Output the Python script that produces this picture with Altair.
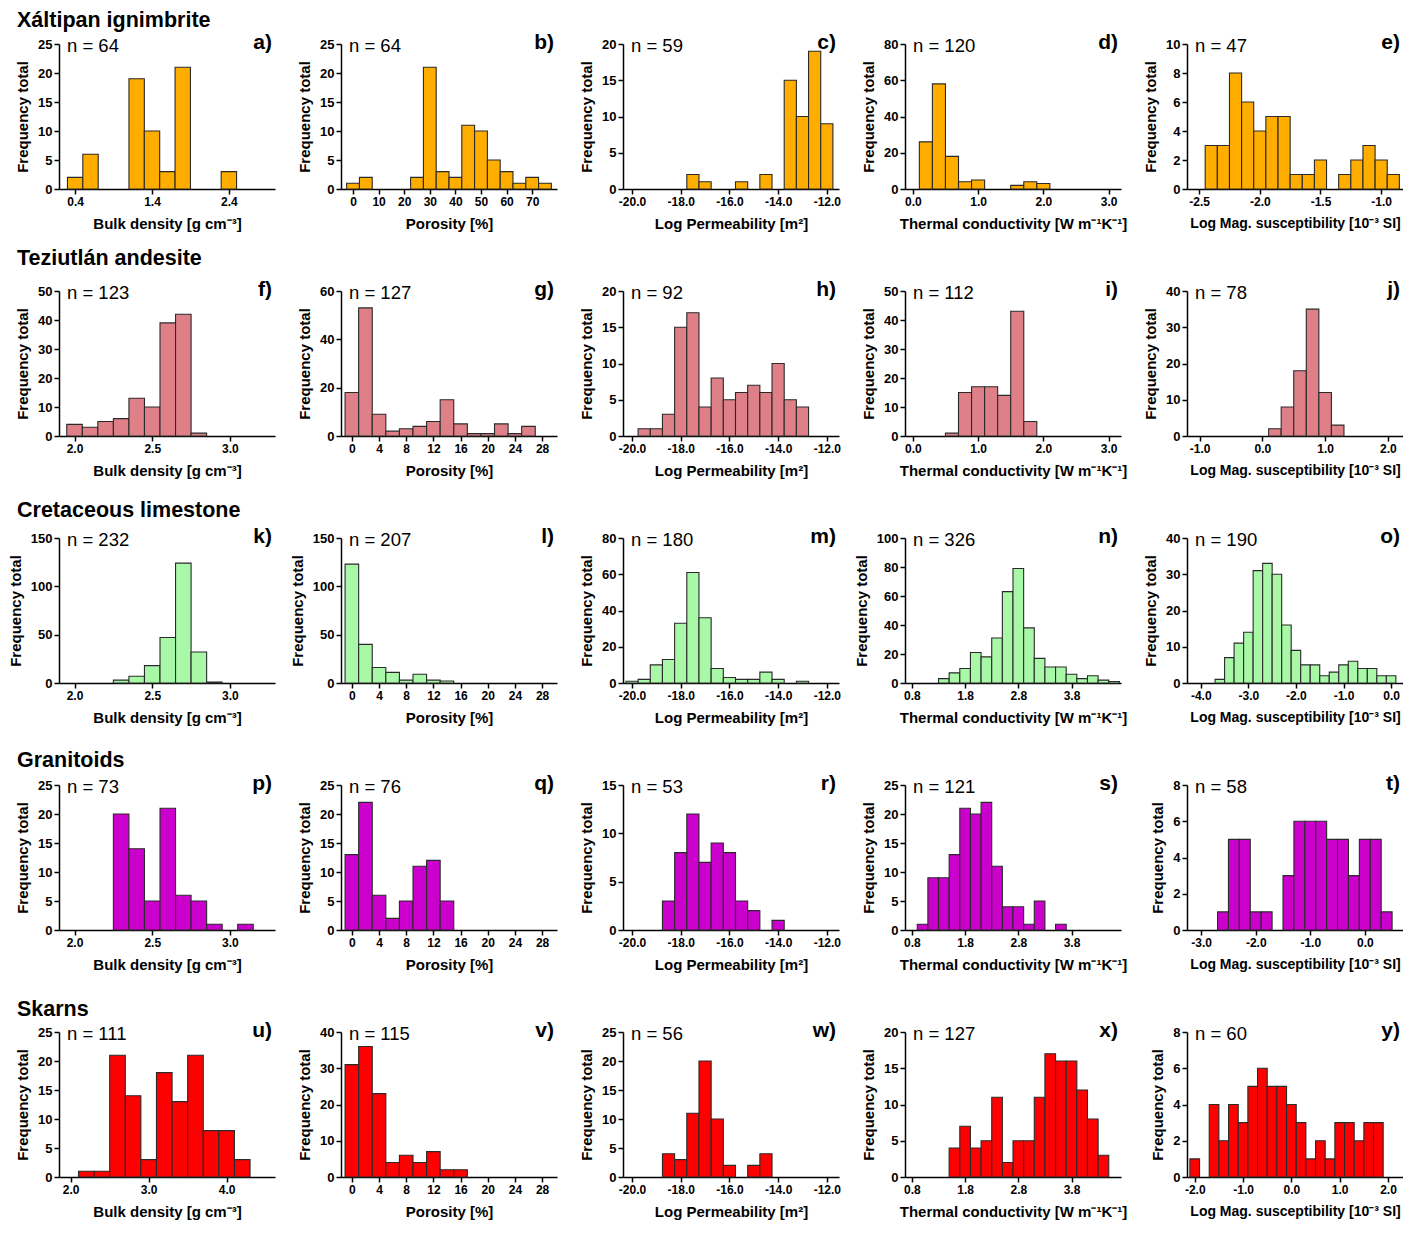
import altair as alt
import pandas as pd

# ---------------- data ----------------
ROCKS = ["Xáltipan ignimbrite", "Teziutlán andesite", "Cretaceous limestone", "Granitoids", "Skarns"]
LETTERS = list("abcdefghijklmnopqrstuvwxy")
N_VALUES = [64, 64, 59, 120, 47,
            123, 127, 92, 112, 78,
            232, 207, 180, 326, 190,
            73, 76, 53, 121, 58,
            111, 115, 56, 127, 60]
X_TITLES = ["Bulk density [g cm⁻³]", "Porosity [%]", "Log Permeability [m²]",
            "Thermal conductivity [W m⁻¹K⁻¹]", "Log Mag. susceptibility [10⁻³ SI]"]

# counts per histogram bin (first bin centre, bin width)
A_COUNTS = [2, 6, 0, 0, 19, 10, 3, 21, 0, 0, 3]
B_COUNTS = [1, 2, 0, 0, 0, 2, 21, 3, 2, 11, 10, 5, 3, 1, 2, 1]
C_COUNTS = [2, 1, 0, 0, 1, 0, 2, 0, 15, 10, 19, 9]
D_COUNTS = [26, 58, 18, 4, 5, 0, 0, 2, 4, 3]
E_COUNTS = [3, 3, 8, 6, 4, 5, 5, 1, 1, 2, 0, 1, 2, 3, 2, 1]
F_COUNTS = [4, 3, 5, 6, 13, 10, 39, 42, 1]
G_COUNTS = [18, 53, 9, 2, 3, 4, 6, 15, 5, 1, 1, 5, 1, 4]
H_COUNTS = [1, 1, 3, 15, 17, 4, 8, 5, 6, 7, 6, 10, 5, 4]
I_COUNTS = [1, 15, 17, 17, 14, 43, 5]
J_COUNTS = [2, 8, 18, 35, 12, 3]
K_COUNTS = [3, 7, 18, 47, 124, 32, 1]
L_COUNTS = [123, 40, 16, 11, 3, 9, 3, 2]
M_COUNTS = [1, 2, 10, 13, 33, 61, 36, 8, 3, 2, 2, 6, 2, 0, 1]
N_COUNTS = [3, 7, 10, 21, 18, 31, 63, 79, 38, 17, 11, 11, 6, 3, 5, 2, 1]
O_COUNTS = [1, 7, 11, 14, 31, 33, 30, 16, 9, 5, 5, 2, 3, 5, 6, 4, 4, 2, 2]
P_COUNTS = [20, 14, 5, 21, 6, 5, 1, 0, 1]
Q_COUNTS = [13, 22, 6, 2, 5, 11, 12, 5]
R_COUNTS = [3, 8, 12, 7, 9, 8, 3, 2, 0, 1]
S_COUNTS = [1, 9, 9, 13, 21, 20, 22, 11, 4, 4, 1, 5, 0, 1]
T_COUNTS = [1, 5, 5, 1, 1, 0, 3, 6, 6, 6, 5, 5, 3, 5, 5, 1]
U_COUNTS = [1, 1, 21, 14, 3, 18, 13, 21, 8, 8, 3]
V_COUNTS = [31, 36, 23, 4, 6, 4, 7, 2, 2]
W_COUNTS = [4, 3, 11, 20, 10, 2, 0, 2, 4]
X_COUNTS = [4, 7, 4, 5, 11, 2, 5, 5, 11, 17, 16, 16, 12, 8, 3]
Y_COUNTS = [1, 0, 4, 2, 4, 3, 5, 6, 5, 5, 4, 3, 1, 2, 1, 3, 3, 2, 3, 3]

PANEL_COUNTS = [A_COUNTS, B_COUNTS, C_COUNTS, D_COUNTS, E_COUNTS,
                F_COUNTS, G_COUNTS, H_COUNTS, I_COUNTS, J_COUNTS,
                K_COUNTS, L_COUNTS, M_COUNTS, N_COUNTS, O_COUNTS,
                P_COUNTS, Q_COUNTS, R_COUNTS, S_COUNTS, T_COUNTS,
                U_COUNTS, V_COUNTS, W_COUNTS, X_COUNTS, Y_COUNTS]

BIN_FIRST = [0.4, 0, -17.5, 0.2, -2.4,
             2.0, 0, -19.5, 0.6, 0.2,
             2.3, 0, -20.0, 1.4, -3.6,
             2.3, 0, -18.5, 1.0, -2.6,
             2.2, 0, -18.5, 1.6, -2.0]
BIN_WIDTH = [0.2, 5, 0.5, 0.2, 0.1,
             0.1, 2, 0.5, 0.2, 0.2,
             0.1, 2, 0.5, 0.2, 0.2,
             0.1, 2, 0.5, 0.2, 0.2,
             0.2, 2, 0.5, 0.2, 0.2]

# axis ranges and tick labels
PERM_DOM, PERM_TICKS = [-20.37, -11.5], [-20, -18, -16, -14, -12]
POR_DOM, POR_TICKS = [-1.6, 30.2], [0, 4, 8, 12, 16, 20, 24, 28]
BD_DOM, BD_TICKS = [1.9, 3.29], [2.0, 2.5, 3.0]
TC_DOM, TC_TICKS = [0.67, 4.73], [0.8, 1.8, 2.8, 3.8]
TC0_DOM, TC0_TICKS = [-0.12, 3.19], [0.0, 1.0, 2.0, 3.0]

X_DOMAINS = [[0.19, 3.0], [-4.7, 79.7], PERM_DOM, TC0_DOM, [-2.6, -0.82],
             BD_DOM, POR_DOM, PERM_DOM, TC0_DOM, [-1.2, 2.24],
             BD_DOM, POR_DOM, PERM_DOM, TC_DOM, [-4.29, 0.25],
             BD_DOM, POR_DOM, PERM_DOM, TC_DOM, [-3.26, 0.7],
             [1.85, 4.62], POR_DOM, PERM_DOM, TC_DOM, [-2.16, 2.31]]
X_TICKS = [[0.4, 1.4, 2.4], [0, 10, 20, 30, 40, 50, 60, 70], PERM_TICKS, TC0_TICKS, [-2.5, -2.0, -1.5, -1.0],
           BD_TICKS, POR_TICKS, PERM_TICKS, TC0_TICKS, [-1.0, 0.0, 1.0, 2.0],
           BD_TICKS, POR_TICKS, PERM_TICKS, TC_TICKS, [-4.0, -3.0, -2.0, -1.0, 0.0],
           BD_TICKS, POR_TICKS, PERM_TICKS, TC_TICKS, [-3.0, -2.0, -1.0, 0.0],
           [2.0, 3.0, 4.0], POR_TICKS, PERM_TICKS, TC_TICKS, [-2.0, -1.0, 0.0, 1.0, 2.0]]
Y_MAX = [25, 25, 20, 80, 10,
         50, 60, 20, 50, 40,
         150, 150, 80, 100, 40,
         25, 25, 15, 25, 8,
         25, 40, 25, 20, 8]
Y_STEP = [5, 5, 5, 20, 2,
          10, 20, 5, 10, 10,
          50, 50, 20, 20, 10,
          5, 5, 5, 5, 2,
          5, 10, 5, 5, 2]

COLORS = ["#FFAE00", "#DF8089", "#A8F8A8", "#CC00CC", "#FF0000"]

# ---------------- chart ----------------
W, H = 216, 145
FONT = "Liberation Sans"
ROW_TITLE_Y = [-23, -32, -27, -24, -22]
X_TITLE_SIZE = [15, 15, 15, 15, 14]

panels = []
for i in range(25):
    r, c = divmod(i, 5)
    counts = PANEL_COUNTS[i]
    step = BIN_WIDTH[i]
    lo = [round(BIN_FIRST[i] + k * step - step / 2, 4) for k in range(len(counts))]
    df = pd.DataFrame({"lo": lo, "hi": [round(v + step, 4) for v in lo],
                       "count": counts, "base": [0] * len(counts)})
    df = df[df["count"] > 0]
    fmt = "d" if c == 1 else ".1f"
    lab = f"(datum.value < 0 ? '-' : '') + format(abs(datum.value), '{fmt}')"

    bars = alt.Chart(df).mark_bar(
        color=COLORS[r], stroke="#2a2a2a", strokeWidth=1.1
    ).encode(
        x=alt.X("lo:Q",
                scale=alt.Scale(domain=X_DOMAINS[i], nice=False, zero=False),
                axis=alt.Axis(values=X_TICKS[i], labelExpr=lab, title=X_TITLES[c],
                              titleFontSize=X_TITLE_SIZE[c],
                              labelFlush=False, labelOverlap=False)),
        x2="hi:Q",
        y=alt.Y("count:Q",
                scale=alt.Scale(domain=[0, Y_MAX[i]], nice=False, zero=True),
                axis=alt.Axis(values=list(range(0, Y_MAX[i] + 1, Y_STEP[i])),
                              title="Frequency total", format="d")),
        y2="base:Q",
    )

    ntext = alt.Chart(pd.DataFrame({"t": [f"n = {N_VALUES[i]}"]})).mark_text(
        align="left", baseline="middle", fontSize=18.5, font=FONT, color="black"
    ).encode(x=alt.value(8), y=alt.value(2), text="t:N")

    ltext = alt.Chart(pd.DataFrame({"t": [LETTERS[i] + ")"]})).mark_text(
        align="right", baseline="middle", fontSize=21, font=FONT, fontWeight="bold", color="black"
    ).encode(x=alt.value(W - 3), y=alt.value(-1), text="t:N")

    layers = [bars, ntext, ltext]
    if c == 0:
        rtext = alt.Chart(pd.DataFrame({"t": [ROCKS[r]]})).mark_text(
            align="left", baseline="middle", fontSize=21.5, font=FONT, fontWeight="bold", color="black"
        ).encode(x=alt.value(-42), y=alt.value(ROW_TITLE_Y[r]), text="t:N")
        layers.append(rtext)

    panels.append(alt.layer(*layers).properties(width=W, height=H))

chart = alt.concat(
    *panels, columns=5, spacing={"row": 102, "column": 66}, bounds="flush"
).properties(
    padding={"left": 0, "top": 2, "right": 0, "bottom": 4}
).configure_view(
    stroke=None
).configure_axis(
    grid=False,
    domainColor="black", domainWidth=1.5,
    tickColor="black", tickWidth=1.5, tickSize=5,
    labelFont=FONT, labelFontWeight="bold", labelColor="black",
    titleFont=FONT, titleFontWeight="bold", titleColor="black",
    titleFontSize=15,
).configure_axisX(
    labelFontSize=12, labelPadding=2, titlePadding=9
).configure_axisY(
    labelFontSize=13, labelPadding=2, titlePadding=7
)

chart.save("out.html", embed_options={"renderer": "svg", "actions": False})
